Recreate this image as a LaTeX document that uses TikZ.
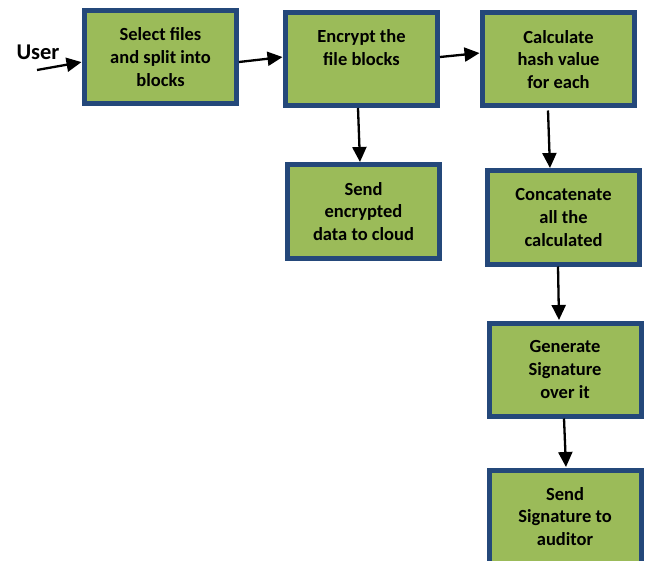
\documentclass[tikz,border=0pt]{standalone}
\usepackage{fontspec}
\setmainfont{Carlito}
\usepackage{tikz}
\usetikzlibrary{arrows.meta}
\usepackage{xcolor}
\definecolor{boxgreen}{RGB}{155,187,89}
\definecolor{boxblue}{RGB}{36,72,122}

\tikzset{
  stepbox/.style={draw=boxblue,line width=5pt,fill=boxgreen,
    minimum width=152pt,minimum height=93pt,align=center,
    font=\fontsize{18.5}{22.8}\selectfont\bfseries},
  flow/.style={->,line width=2.3pt,shorten >=0.5pt}
}

\begin{document}
\begin{tikzpicture}[x=1pt,y=-1pt,>={Triangle[length=15pt,width=14pt]}]
    \useasboundingbox (0,0) rectangle (647,561);
    \node[font=\fontsize{22.5}{26}\selectfont\bfseries] (user) at (38,52) {User};
    \coordinate (userin) at (37,70);
    \node[stepbox] (split) at (160.5,57) {Select files\\and split into\\blocks};
    \node[stepbox] (encrypt) at (361.5,59) {Encrypt the\\file blocks\\~};
    \node[stepbox] (hash) at (558.5,59.5) {Calculate\\hash value\\for each};
    \node[stepbox] (cloud) at (363.5,211.5) {Send\\encrypted\\data to cloud};
    \node[stepbox] (concat) at (563.5,217.5) {Concatenate\\all the\\calculated};
    \node[stepbox] (sign) at (565,369.5) {Generate\\Signature\\over it};
    \node[stepbox] (auditor) at (565,516.5) {Send\\Signature to\\auditor};
    \draw[flow] (userin) -- ([yshift=-5pt]split.west);
    \draw[flow] ([yshift=-5pt]split.east) -- ([yshift=2pt]encrypt.west);
    \draw[flow] ([yshift=2pt]encrypt.east) -- ([yshift=6.5pt]hash.west);
    \draw[flow] ([xshift=-3.5pt]encrypt.south) -- ([xshift=-3.5pt]cloud.north);
    \draw[flow] ([xshift=-10.5pt,yshift=-2pt]hash.south) -- ([xshift=-13.5pt]concat.north);
    \draw[flow] ([xshift=-5.5pt]concat.south) -- ([xshift=-6pt]sign.north);
    \draw[flow] ([xshift=-1pt]sign.south) -- ([xshift=1pt]auditor.north);
\end{tikzpicture}
\end{document}
